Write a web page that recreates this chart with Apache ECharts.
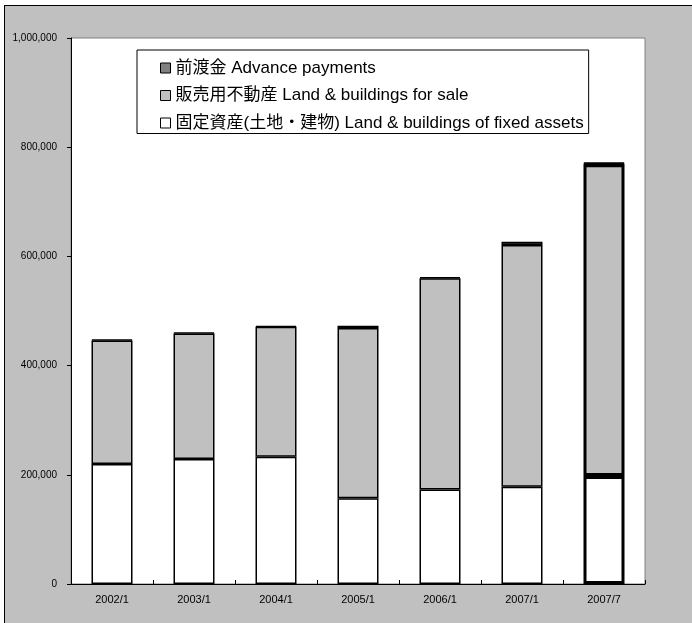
<!DOCTYPE html>
<html>
<head>
<meta charset="utf-8">
<script src="https://cdn.jsdelivr.net/npm/echarts@6/dist/echarts.min.js"></script>
<style>
  html, body { margin: 0; padding: 0; background: #fff; }
  #mychart {
    position: absolute;
    left: 4px;
    top: 5px;
    width: 687px;
    height: 617px;
    border-left: 1px solid #000;
    border-top: 1px solid #000;
    background: #c0c0c0;
  }
</style>
</head>
<body>
<div id="mychart"></div>
<script>
  var categories = ['2002/1', '2003/1', '2004/1', '2005/1', '2006/1', '2007/1', '2007/7']
  var fixedAssets = [220000, 229000, 233000, 157000, 173000, 178000, 198000]
  var forSale = [226000, 230000, 238000, 312000, 387000, 443000, 571000]
  var advance = [1500, 1500, 1500, 4000, 2000, 6000, 1000]
  var seriesNames = [
    '前渡金 Advance payments',
    '販売用不動産 Land & buildings for sale',
    '固定資産(土地・建物) Land & buildings of fixed assets'
  ]

  // last bar (2007/7) is drawn with a heavier outline
  function styled(values) {
    return values.map(function (v, i) {
      if (i === values.length - 1) {
        return { value: v, itemStyle: { borderWidth: 3 } }
      }
      return v
    })
  }

  var font = "'Liberation Sans', Arial, 'Noto Sans CJK JP', sans-serif"

  var chart = echarts.init(document.getElementById('mychart'))
  chart.setOption({
    animation: false,
    textStyle: { fontFamily: font },
    grid: {
      left: 66,
      right: 47,
      top: 32,
      bottom: 39,
      show: true,
      backgroundColor: '#fff',
      borderColor: '#808080',
      borderWidth: 1
    },
    legend: {
      orient: 'vertical',
      left: 132,
      top: 44,
      data: [seriesNames[0], seriesNames[1], seriesNames[2]],
      backgroundColor: '#fff',
      borderColor: '#000',
      borderWidth: 1,
      padding: [9.5, 5, 2, 23],
      itemWidth: 10,
      itemHeight: 10,
      itemGap: 10.5,
      icon: 'rect',
      itemStyle: { borderColor: '#000', borderWidth: 1 },
      textStyle: {
        fontSize: 17,
        lineHeight: 17,
        color: '#000',
        fontFamily: "Arial, 'Liberation Sans', 'Noto Sans CJK JP', sans-serif"
      }
    },
    xAxis: {
      type: 'category',
      data: categories,
      axisLine: { lineStyle: { color: '#000', width: 1 } },
      axisTick: { show: true, inside: true, length: 4, lineStyle: { color: '#000' } },
      axisLabel: { fontSize: 11, color: '#000', margin: 10 }
    },
    yAxis: {
      type: 'value',
      min: 0,
      max: 1000000,
      interval: 200000,
      splitLine: { show: false },
      axisLine: { show: true, lineStyle: { color: '#000', width: 1 } },
      axisTick: { show: true, length: 4, lineStyle: { color: '#000' } },
      axisLabel: {
        fontSize: 10,
        color: '#000',
        margin: 14,
        formatter: function (v) { return v.toLocaleString('en-US') }
      }
    },
    series: [
      {
        name: seriesNames[2],
        type: 'bar',
        stack: 'total',
        barWidth: '50%',
        itemStyle: { color: '#ffffff', borderColor: '#000', borderWidth: 1.5 },
        data: styled(fixedAssets)
      },
      {
        name: seriesNames[1],
        type: 'bar',
        stack: 'total',
        barWidth: '50%',
        itemStyle: { color: '#c0c0c0', borderColor: '#000', borderWidth: 1.5 },
        data: styled(forSale)
      },
      {
        name: seriesNames[0],
        type: 'bar',
        stack: 'total',
        barWidth: '50%',
        itemStyle: { color: '#808080', borderColor: '#000', borderWidth: 1.5 },
        data: styled(advance)
      }
    ]
  })
</script>
</body>
</html>
